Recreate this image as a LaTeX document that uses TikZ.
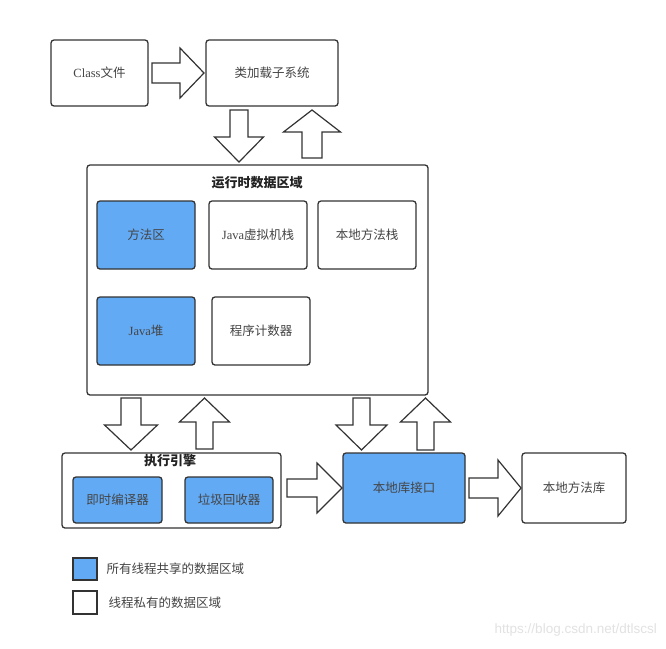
\documentclass[tikz,border=0pt]{standalone}
\usepackage{fontspec}
\setmainfont{Noto Sans CJK SC}
\newfontfamily\latinf{Liberation Serif}
\newfontfamily\wmfont{Liberation Sans}
\definecolor{edgec}{HTML}{333333}
\definecolor{txtc}{HTML}{444444}
\definecolor{titlec}{HTML}{222222}
\definecolor{sharedblue}{RGB}{99,170,245}
\definecolor{wmc}{HTML}{E2E2E2}
\tikzset{
  box/.style={draw=edgec, line width=1.3pt, rounded corners=3pt, fill=white,
    text=txtc, font=\fontsize{12.5}{15}\selectfont, inner sep=0pt},
  sharedbox/.style={box, fill=sharedblue},
  legbox/.style={draw=edgec, line width=1.6pt, inner sep=0pt},
  titletext/.style={text=titlec, font=\bfseries\fontsize{13}{15}\selectfont},
  legtext/.style={text=txtc, anchor=west, font=\fontsize{12.5}{15}\selectfont},
  arr/.style={draw=edgec, line width=1.2pt, fill=white, line join=miter},
}
% #1 x, #2 y of tail centre, #3 angle, #4 length, #5 shaft half width, #6 head half width, #7 head length
\newcommand{\blockarr}[7]{%
  \draw[arr, shift={(#1,#2)}, rotate=#3]
    (0,-#5) -- ({#4-#7},-#5) -- ({#4-#7},-#6) -- (#4,0) -- ({#4-#7},#6)
    -- ({#4-#7},#5) -- (0,#5) -- cycle;}
\begin{document}
\begin{tikzpicture}[x=1pt,y=-1pt]
\useasboundingbox (0,0) rectangle (666,648);
\fill[white] (0,0) rectangle (666,648);

% top row
\node[box, minimum width=97pt, minimum height=66pt] (class) at (99.5,73) {{\latinf Class}文件};
\node[box, minimum width=132pt, minimum height=66pt] (loader) at (272,73) {类加载子系统};

% runtime data area
\node[box, minimum width=341pt, minimum height=230pt] (runtime) at (257.5,280) {};
\node[titletext] (rtitle) at (257,183) {运行时数据区域};
\node[sharedbox, minimum width=98pt, minimum height=68pt] (method) at (146,235) {方法区};
\node[box, minimum width=98pt, minimum height=68pt] (jvms) at (258,235) {{\latinf Java}虚拟机栈};
\node[box, minimum width=98pt, minimum height=68pt] (nstack) at (367,235) {本地方法栈};
\node[sharedbox, minimum width=98pt, minimum height=68pt] (heap) at (146,331) {{\latinf Java}堆};
\node[box, minimum width=98pt, minimum height=68pt] (pc) at (261,331) {程序计数器};

% execution engine
\node[box, minimum width=219pt, minimum height=75pt] (exec) at (171.5,490.5) {};
\node[titletext] (etitle) at (170,461) {执行引擎};
\node[sharedbox, minimum width=89pt, minimum height=46pt] (jit) at (117.5,500) {即时编译器};
\node[sharedbox, minimum width=88pt, minimum height=46pt] (gc) at (229,500) {垃圾回收器};

% native
\node[sharedbox, minimum width=122pt, minimum height=70pt] (nif) at (404,488) {本地库接口};
\node[box, minimum width=104pt, minimum height=70pt] (nlib) at (574,488) {本地方法库};

% block arrows
\blockarr{152}{73}{0}{52}{10}{25}{24}
\blockarr{239}{110}{-90}{52}{9}{24.5}{25}
\blockarr{312}{158}{90}{48}{10}{28.5}{22}
\blockarr{131}{398}{-90}{52}{10}{26.5}{25}
\blockarr{204.5}{449}{90}{51}{8.5}{25}{24}
\blockarr{287}{488}{0}{55}{9}{25}{25}
\blockarr{361.5}{398}{-90}{52}{8.5}{25.5}{25}
\blockarr{425.5}{450}{90}{52}{8.5}{25}{24}
\blockarr{469}{488}{0}{52}{10}{28}{23}

% legend
\node[legbox, fill=sharedblue, minimum width=24pt, minimum height=22pt] (leg1) at (85,569) {};
\node[legtext] (leg1t) at (103,569) {所有线程共享的数据区域};
\node[legbox, fill=white, minimum width=24pt, minimum height=23pt] (leg2) at (85,602.5) {};
\node[legtext] (leg2t) at (105,603) {线程私有的数据区域};

% watermark
\node[anchor=east, text=wmc, inner sep=0pt, font=\wmfont\fontsize{13.5}{15}\selectfont] (wm) at (657,630) {https://blog.csdn.net/dtlscsl};
\end{tikzpicture}
\end{document}
